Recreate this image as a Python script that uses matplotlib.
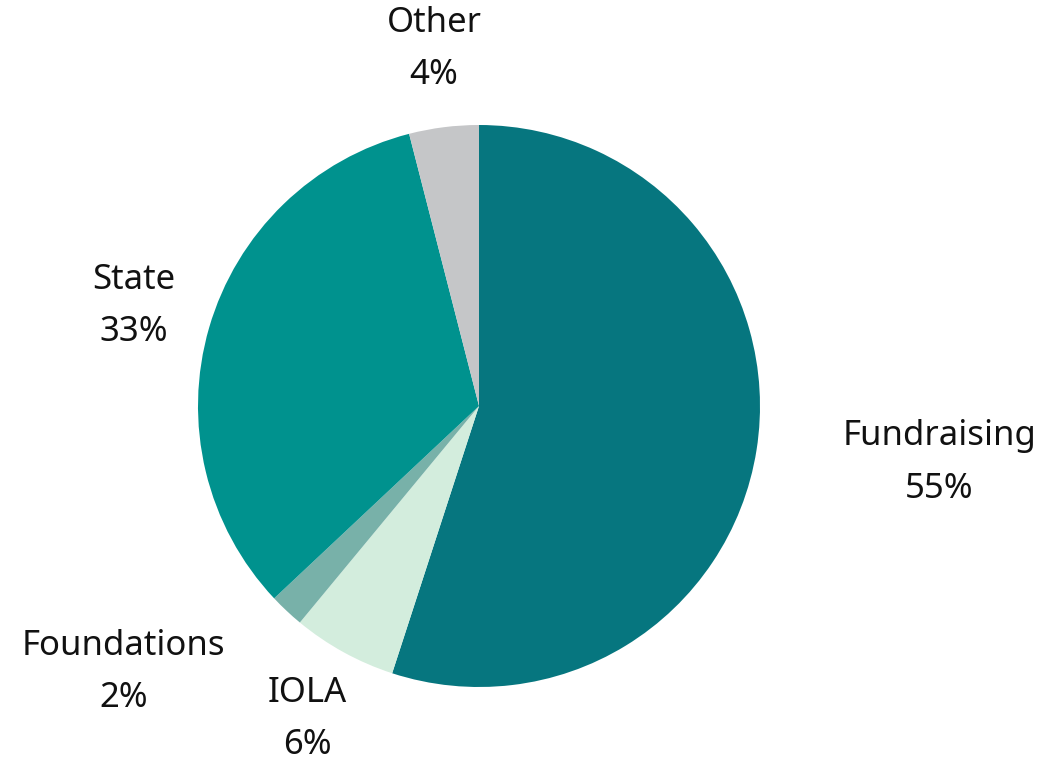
import numpy as np
import matplotlib
matplotlib.use("Agg")
import matplotlib.pyplot as plt

labels = ["Fundraising", "IOLA", "Foundations", "State", "Other"]
shares = [55, 6, 2, 33, 4]
colors = ["#06767F", "#D3EDDD", "#78B1A9", "#00928E", "#C5C6C8"]
# label placement: distance (in radii) and angle nudge (deg)
label_dist = [1.65, 1.27, 1.58, 1.28, 1.28]
label_nudge = [2, 0, -10, 0, 0]

plt.rcParams["font.family"] = ["Noto Sans", "DejaVu Sans"]

fig = plt.figure(figsize=(10.49, 7.65), dpi=100)
ax = fig.add_axes([0, 0, 1, 1])
wedges, _ = ax.pie(shares, colors=colors, startangle=90, counterclock=False,
                   radius=1.0, wedgeprops=dict(linewidth=0))

for w, lab, s, d, nd in zip(wedges, labels, shares, label_dist, label_nudge):
    mid = np.deg2rad((w.theta1 + w.theta2) / 2 + nd)
    ax.text(d * np.cos(mid), d * np.sin(mid), f"{lab}\n{s}%",
            ha="center", va="center", fontsize=25, linespacing=1.7,
            color="#111111")

ax.set_xlim(-479 / 281, 570 / 281)
ax.set_ylim(-359 / 281, 406 / 281)
ax.set_aspect("equal")
ax.axis("off")
fig.savefig("out.png", dpi=100)
